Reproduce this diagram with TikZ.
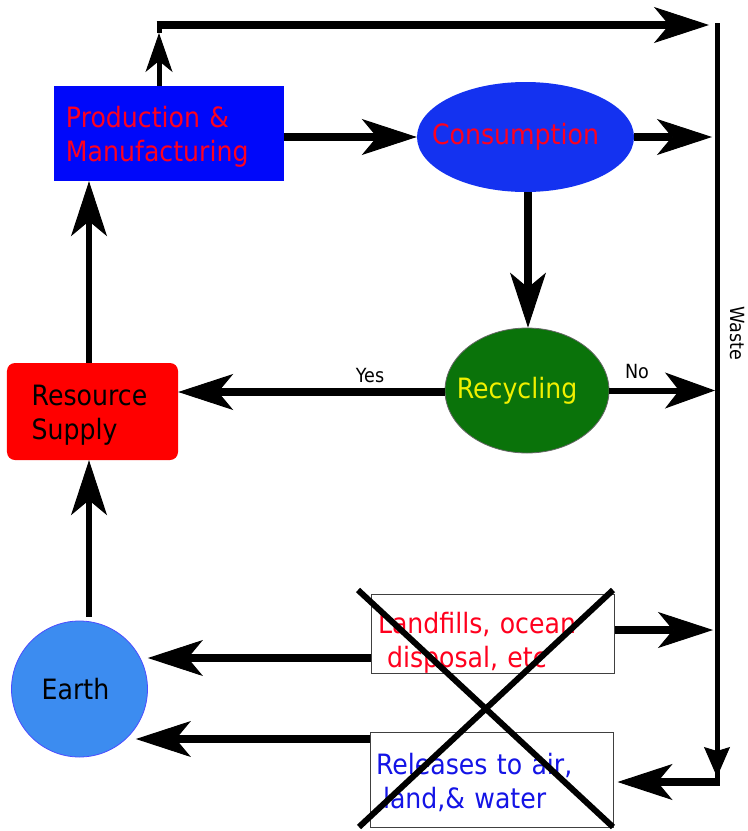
\documentclass[tikz,border=0pt]{standalone}
\usepackage{fontspec}
\setmainfont{DejaVu Sans}[FakeStretch=0.9]
\usepackage{tikz}
\usetikzlibrary{arrows.meta,shapes.geometric,calc}
\usepackage{xcolor}

\definecolor{prodblue}{RGB}{0,8,250}
\definecolor{consblue}{RGB}{20,50,240}
\definecolor{recgreen}{RGB}{10,115,10}
\definecolor{earthblue}{RGB}{60,140,240}
\definecolor{resred}{RGB}{255,0,0}
\definecolor{textred}{RGB}{255,0,30}
\definecolor{textyellow}{RGB}{240,240,0}
\definecolor{relblue}{RGB}{20,20,230}

\tikzset{
  big/.style={font=\fontsize{28bp}{34bp}\selectfont},
  small/.style={font=\fontsize{19.5bp}{22bp}\selectfont},
  bigtip/.style={-{Stealth[length=55bp,width=36bp,inset=15bp,line width=1bp]}},
  flow/.style={line width=8bp, bigtip},
  colflow/.style={line width=6.5bp, bigtip},
  noflow/.style={line width=6bp, -{Stealth[length=50bp,width=36bp,inset=14bp,line width=1bp]}},
  upflow/.style={line width=5bp, -{Stealth[length=39bp,width=27bp,inset=11bp,line width=1bp]}},
  wasteline/.style={line width=5bp},
  textbox/.style={rectangle, draw=black!75, line width=1bp, fill=white,
    align=left, inner ysep=0pt, big}
}
% taller first line pushes a two-line label down inside its box
\newcommand{\firstline}[1]{\rule{0pt}{#1}}
% label that does not widen its shape, nudged left by #1
\newcommand{\offlabel}[2]{\makebox[0pt]{#2\hspace*{#1}}}

\begin{document}
\begin{tikzpicture}[x=1bp, y=-1bp]
    \useasboundingbox (0,0) rectangle (748,831);

    % main stages
    \node[rectangle, fill=prodblue, text=textred, big, align=left,
      text width=206bp, inner xsep=12bp, inner ysep=0pt,
      minimum height=95bp] (prod) at (169,133.5) {\firstline{28bp}Production \&\\Manufacturing};
    \node[ellipse, fill=consblue, text=textred, big, inner sep=0pt,
      minimum width=217bp, minimum height=110bp] (cons) at (525.5,137) {\offlabel{20bp}{Consumption}};
    \node[ellipse, fill=recgreen, draw=black!60, line width=0.8bp, text=textyellow, big,
      inner sep=0pt, minimum width=164bp, minimum height=125bp] (rec) at (527,390.5) {\offlabel{20bp}{Recycling}};
    \node[rectangle, rounded corners=8bp, fill=resred, big, align=left, inner sep=0pt,
      minimum width=171bp, minimum height=97bp] (res) at (92.5,411.5) {\firstline{28bp}Resource\hspace*{6bp}\\Supply};
    \node[circle, fill=earthblue, draw=blue!70, line width=0.8bp, big, inner sep=0pt,
      minimum size=136bp] (earth) at (79.5,689) {\offlabel{8bp}{Earth}};

    % where the waste goes
    \node[textbox, text=textred, text width=229bp, inner xsep=7bp,
      minimum height=79bp] (land) at (492.5,633.5) {\firstline{39bp}Landfills, ocean\\\hspace*{9bp}disposal, etc};
    \node[textbox, text=relblue, text width=231bp, inner xsep=6bp,
      minimum height=95bp] (rel) at (491.5,779.5) {\firstline{27bp}Releases to air,\\\hspace*{7bp}land,\& water};

    % waste line on the right
    \coordinate (wtop) at (717,23);
    \coordinate (wtip) at (717,777);
    \coordinate (wbot) at (717,782);
    \draw[wasteline] (wtop) -- (wbot);
    \draw[wasteline, -{Stealth[length=30bp,width=26bp,inset=4bp,line width=1bp]}] (wtop) -- (wtip);
    \node[small, rotate=-90] (wastelbl) at (737,333) {Waste};

    % top loop from production
    \coordinate (ptop) at (159,25);
    \coordinate (ptip) at (159,33);
    \draw[wasteline] (ptip) -- (ptop);
    \draw[upflow] (prod.north -| ptip) -- (ptip);
    \draw[flow, shorten >=8bp] ([xshift=-2.5bp]ptop) -- (ptop -| wtop);

    % flows between stages
    \draw[flow] (prod.east |- cons.west) -- (cons.west);
    \draw[flow, shorten >=5bp] (cons.east) -- (cons.east -| wtop);
    \draw[flow] (cons.south -| 528,0) -- (rec.north -| 528,0);
    \draw[flow] (rec.west |- 0,392) -- (res.east |- 0,392);
    \node[small] (yes) at (370,376) {Yes};
    \draw[noflow, shorten >=2bp] (rec.east) -- (rec.east -| wtop);
    \node[small] (no) at (637,372) {No};

    % left column
    \coordinate (lx) at (89,0);
    \draw[colflow] (res.north -| lx) -- (prod.south -| lx);
    \draw[colflow] ($(earth.north -| lx)+(0,-4)$) -- (res.south -| lx);

    % back to the earth
    \coordinate (ly) at (0,658);
    \coordinate (ry) at (0,739);
    \draw[flow] (land.west |- ly) -- (earth.east |- ly);
    \draw[flow] (rel.west |- ry) -- ($(earth.east |- ry)+(-12,0)$);
    \draw[flow, shorten >=4bp] (land.east |- 0,630) -- (wtop |- 0,630);
    \draw[flow, shorten >=4bp] ([xshift=2.5bp]wbot) -- (rel.east |- wbot);

    % crossed out
    \draw[line width=6bp] (358,590) -- (613,827);
    \draw[line width=6bp] (613,590) -- (359,827);
\end{tikzpicture}
\end{document}
